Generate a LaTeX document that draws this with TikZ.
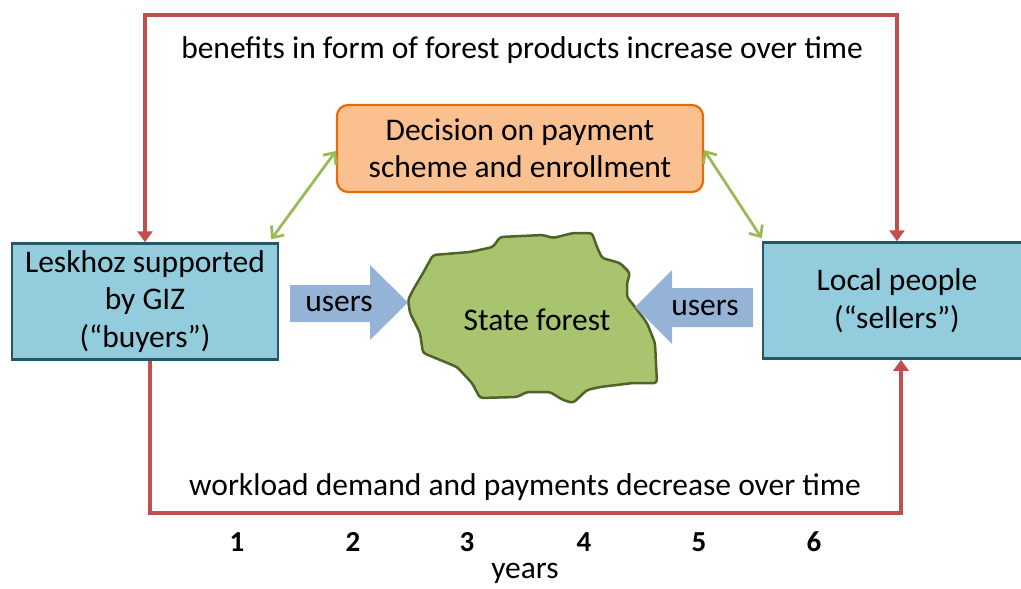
\documentclass[tikz,border=0pt]{standalone}
\usepackage{fontspec}
\setmainfont{Carlito}
\usetikzlibrary{arrows.meta, positioning}

\definecolor{boxblue}{HTML}{93CDDD}
\definecolor{boxedge}{HTML}{215968}
\definecolor{decfill}{HTML}{FAC090}
\definecolor{decedge}{HTML}{E46C0A}
\definecolor{linkgreen}{HTML}{9BBB59}
\definecolor{flowred}{HTML}{C0504D}
\definecolor{userblue}{HTML}{95B3D7}
\definecolor{forestfill}{HTML}{A8C46E}
\definecolor{forestedge}{HTML}{4F6228}

\begin{document}
\begin{tikzpicture}[x=1pt, y=-1pt,
        actor/.style={rectangle, draw=boxedge, line width=2.5pt, fill=boxblue, align=center, minimum height=116pt, inner sep=0pt, font=\fontsize{31.5}{37.5}\selectfont},
        decision/.style={rectangle, rounded corners=11pt, draw=decedge, line width=2.2pt, fill=decfill, align=center, minimum width=366pt, minimum height=87pt, inner sep=0pt, font=\fontsize{31.5}{37}\selectfont},
        label/.style={font=\fontsize{31.5}{37}\selectfont},
        year/.style={font=\bfseries\fontsize{29}{34}\selectfont},
        flow/.style={draw=flowred, line width=3.5pt, >={Triangle[width=15pt,length=11pt]}},
        link/.style={draw=linkgreen, line width=2.8pt, {Straight Barb[width=16pt,length=9pt]}-{Straight Barb[width=16pt,length=9pt]}},
        forest/.style={draw=forestedge, line width=2.5pt, fill=forestfill, rounded corners=3pt}
    ]
    \clip (0,0) rectangle (1021,589);

    % Actors and decision
    \node[actor, minimum width=266pt] (lesk) at (145,301.5) {Leskhoz supported\\by GIZ\\(``buyers'')};
    \node[actor, minimum width=268pt] (local) at (897,300.5) {Local people\\(``sellers'')};
    \node[decision] (decision) at (520,148.5) {Decision on payment\\scheme and enrollment};

    % State forest
    \draw[forest] (433,255) -- (470,252) -- (493,247) -- (500,237) -- (543,235) -- (553,238)
        -- (573,233) -- (592,233) -- (597,247) -- (602,258) -- (620,263) -- (630,273)
        -- (627,283) -- (627,297) -- (635,307) -- (647,323) -- (655,343) -- (657,383)
        -- (633,383) -- (600,387) -- (587,390) -- (573,403) -- (563,400) -- (550,392)
        -- (527,392) -- (517,397) -- (480,398) -- (472,383) -- (457,367) -- (433,357)
        -- (423,353) -- (420,333) -- (410,313) -- (408,300) -- (413,290) -- (423,273) -- cycle;
    \node[label] (forestlbl) at (537,320) {State forest};

    % Users arrows
    \fill[userblue] (290,285) -- (370,285) -- (370,265) -- (408,302.5) -- (370,340) -- (370,322) -- (290,322) -- cycle;
    \node[label] (usersL) at (339,304) {users};
    \fill[userblue] (753,288) -- (672,288) -- (672,270) -- (635,307) -- (672,344) -- (672,327) -- (753,327) -- cycle;
    \node[label] (usersR) at (705,308) {users};

    % Links to decision
    \draw[link] ([yshift=-2.5pt]decision.west) -- ([shift={(-8pt,3pt)}]lesk.north east);
    \draw[link] ([yshift=-1.5pt]decision.east) -- ([yshift=3pt]local.north west);

    % Time loop
    \coordinate (topline) at (0,15);
    \coordinate (botline) at (0,513);
    \draw[flow, <->] (lesk.north) -- (lesk.north |- topline) -| (local.north);
    \draw[flow, ->] ([xshift=5pt]lesk.south) -- ([xshift=5pt]lesk.south |- botline) -| ([xshift=4pt]local.south);
    \node[label] (benefits) at (522,50) {benefits in form of forest products increase over time};
    \node[label] (workload) at (525,487) {workload demand and payments decrease over time};

    % Years
    \foreach \n/\x in {1/237,2/353,3/467,4/584,5/699,6/814}
        \node[year] (y\n) at (\x,542) {\n};
    \node[label] (years) at (525,573) {years};

    \end{tikzpicture}
\end{document}
